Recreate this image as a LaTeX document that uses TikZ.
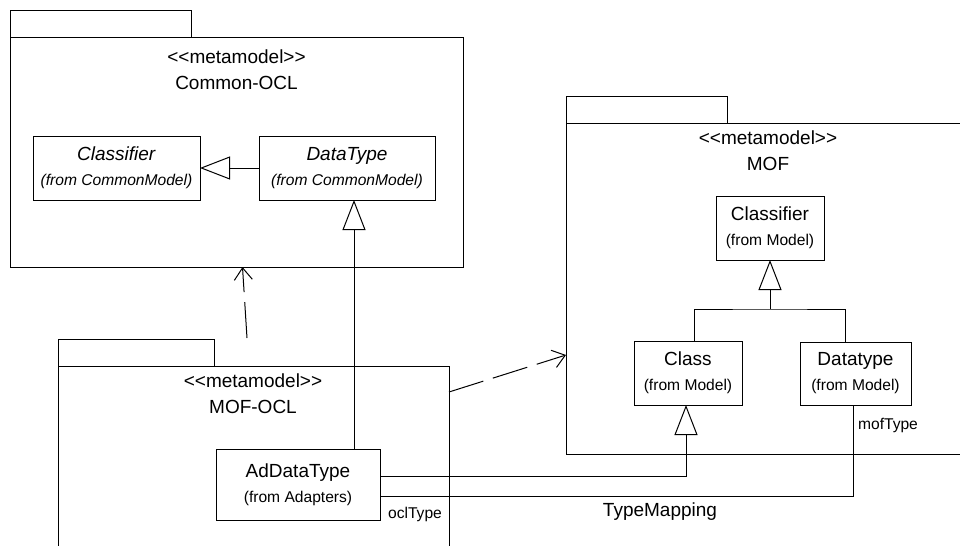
\documentclass[tikz,border=0pt]{standalone}
\usepackage{fontspec}
\setmainfont{Liberation Sans}
\usepackage{tikz}
\usetikzlibrary{arrows.meta,positioning}
\newcommand{\mmodel}{<\kern0pt<metamodel>\kern0pt>}
\newcommand{\sm}{\fontsize{7.8}{10}\selectfont}

\begin{document}
\begin{tikzpicture}[x=0.5pt, y=-0.5pt, line width=0.5pt, font=\fontsize{9.5}{12.5}\selectfont,
  gen/.style={-{Triangle[open,length=15pt,width=11.5pt]}},
  dep/.style={dash pattern=on 18pt off 5pt, -{Straight Barb[length=6pt,width=9pt]}}]
   \clip (0,0) rectangle (960,546);
   % packages
   \begin{scope}[every node/.style={rectangle,draw,outer sep=0pt,inner sep=0pt}]
    \node (t1) [minimum width=90.5pt, minimum height=13.5pt] at (100.5,23.5) {};
    \node (p1) [minimum width=226.5pt, minimum height=115pt] at (236.5,152) {};
    \node (t2) [minimum width=80.5pt, minimum height=13.5pt] at (646.5,109.5) {};
    \node (p2) [minimum width=217pt, minimum height=165.5pt] at (783,288.5) {};
    \node (t3) [minimum width=78pt, minimum height=13.5pt] at (136,352.5) {};
    \node (p3) [minimum width=195.5pt, minimum height=127pt] at (253.5,493) {};
   \end{scope}
   \begin{scope}[every node/.style={align=center,font=\fontsize{9.5}{13}\selectfont}]
    \node (l1) at (236.5,70) {\mmodel\\Common-OCL};
    \node (l2) at (768,151) {\mmodel\\MOF};
    \node (l3) at (253,394) {\mmodel\\MOF-OCL};
   \end{scope}
   % classes
   \begin{scope}[every node/.style={rectangle,draw,fill=white,align=center,outer sep=0pt}]
    \node (c1) [minimum width=83.5pt, minimum height=32pt] at (116.5,168) {\textit{Classifier}\\{\sm\textit{(from CommonModel)}}};
    \node (c2) [minimum width=88pt, minimum height=32pt] at (347,168) {\textit{DataType}\\{\sm\textit{(from CommonModel)}}};
    \node (c3) [minimum width=54pt, minimum height=32pt] at (770,228) {Classifier\\{\sm(from Model)}};
    \node (c4) [minimum width=54pt, minimum height=32pt] at (688,373) {Class\\{\sm(from Model)}};
    \node (c5) [minimum width=55.5pt, minimum height=31.5pt] at (855.5,373.5) {Datatype\\{\sm(from Model)}};
    \node (c6) [minimum width=82pt, minimum height=35.5pt] at (298,484.5) {AdDataType\\{\sm(from Adapters)}};
   \end{scope}
   \node (n1) at (415,514) {\sm oclType};
   \node (n2) at (888,425) {\sm mofType};
   \node (n3) at (660,512) {TypeMapping};
   \coordinate (g1) at ([xshift=3.5pt]c2.south);
   \coordinate (j1) at (770,309);
   \coordinate (d1) at (247,338);
   \draw[gen] (c2) -- (c1);
   \draw[gen] (g1 |- c6.north) -- (g1);
   \draw ([xshift=3pt]c4.north) |- (j1) -| ([xshift=-5pt]c5.north);
   \draw[gen] (j1) -- (c3.south);
   \draw[gen] ([yshift=4.25pt]c6.east) -| ([xshift=-1pt]c4.south);
   \draw ([yshift=-5.75pt]c6.east) -| ([xshift=-1.25pt]c5.south);
   \draw[dep] (d1) -- ([xshift=3pt]p1.south);
   \draw[dep] (p3.east |- 0,392) -- (p2.west |- 0,355);
\end{tikzpicture}
\end{document}
